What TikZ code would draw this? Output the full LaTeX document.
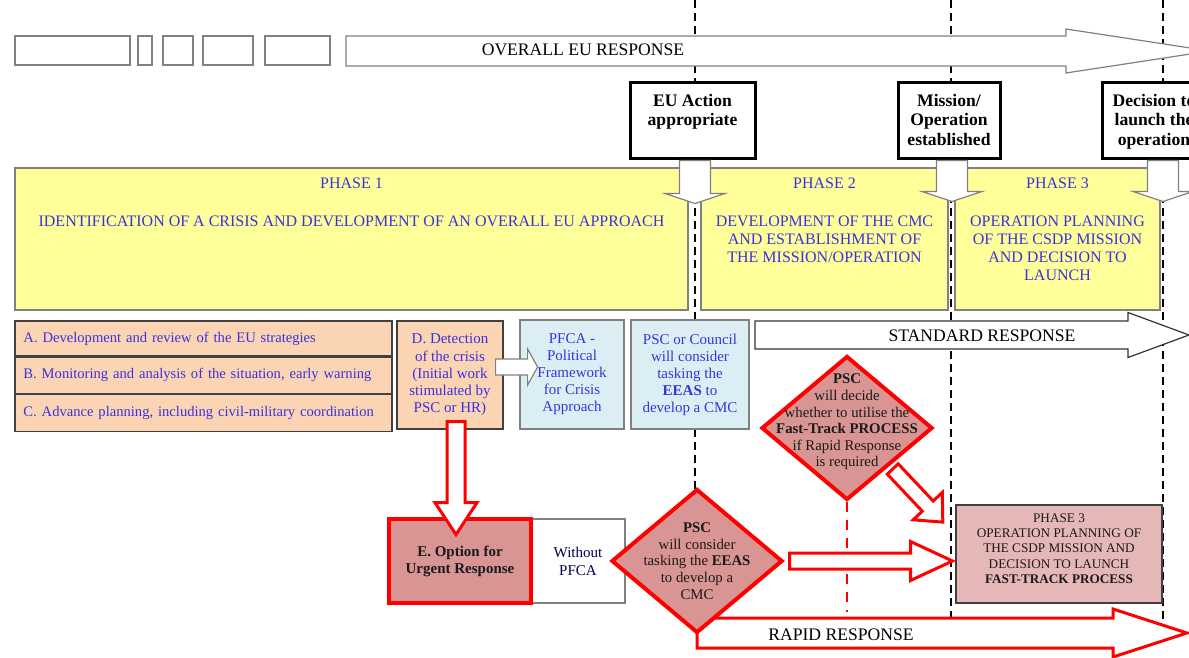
\documentclass[tikz,border=0pt]{standalone}
\usepackage{fontspec}
\setmainfont{Liberation Serif}
\usetikzlibrary{shapes.geometric, positioning, backgrounds}

\definecolor{phaseyellow}{HTML}{FFFF99}
\definecolor{peach}{HTML}{FBD4B4}
\definecolor{paleblue}{HTML}{DBEEF3}
\definecolor{rosefill}{HTML}{D99594}
\definecolor{palerose}{HTML}{E5B8B7}
\definecolor{textblue}{RGB}{60,50,220}
\definecolor{framegray}{HTML}{808080}
\definecolor{darktext}{HTML}{1A1A1A}

% block arrow: [style]{tail}{angle}{length}{shaft half}{head half}{head length}
\newcommand{\blockarrow}[7][]{%
  \begin{scope}[shift={#2}, rotate=#3]
    \draw[#1] (0,-#5) -- (#4-#7,-#5) -- (#4-#7,-#6) -- (#4,0)
      -- (#4-#7,#6) -- (#4-#7,#5) -- (0,#5) -- cycle;
  \end{scope}}

\begin{document}
\begin{tikzpicture}[x=0.5pt, y=-0.5pt,
    every node/.style={inner sep=0pt, align=center},
    tinybox/.style={draw=framegray, line width=0.6pt},
    wharrow/.style={draw=framegray, line width=0.6pt, fill=white},
    stdarrow/.style={draw=black!80, line width=0.6pt, fill=white},
    redarrow/.style={draw=red, line width=1.5pt, fill=white},
    arrowtext/.style={font=\fontsize{8.8}{10}\selectfont},
    milestone/.style={draw, line width=1.5pt, fill=white, minimum height=38pt},
    milestonetext/.style={font=\fontsize{8.8}{9.75}\selectfont\bfseries},
    phasebox/.style={draw=framegray, line width=0.6pt, fill=phaseyellow, minimum height=71pt},
    phasetext/.style={text=textblue, font=\fontsize{8}{9}\selectfont},
    taskbox/.style={draw=black!75, line width=0.6pt, fill=peach, text=textblue,
      font=\fontsize{7.5}{8.6}\selectfont},
    tasklist/.style={taskbox, text width=180pt, inner xsep=4.25pt, align=left,
      font=\fontsize{7.3}{8.6}\selectfont},
    framebox/.style={draw=framegray, line width=0.6pt, fill=paleblue, text=textblue,
      minimum height=54.5pt, font=\fontsize{7.5}{8.5}\selectfont},
    reddiamond/.style={diamond, draw=red, line width=2pt, fill=rosefill,
      minimum width=85.5pt, minimum height=72pt},
    diatext/.style={text=darktext, font=\fontsize{7.4}{8.3}\selectfont},
    urgentbox/.style={draw=red, line width=2pt, fill=rosefill, minimum height=42pt,
      font=\fontsize{7.5}{8.5}\selectfont\bfseries, text=darktext},
    plainbox/.style={draw=framegray, line width=0.6pt, fill=white, minimum height=42pt,
      text=black!70!blue, font=\fontsize{7.5}{9}\selectfont},
    fastbox/.style={draw=black!75, line width=0.8pt, fill=palerose},
    fasttext/.style={text=darktext, font=\fontsize{6.6}{7.6}\selectfont},
    guide/.style={dash pattern=on 4pt off 2.5pt, line width=1pt},
    redguide/.style={draw=red, dash pattern=on 5pt off 4pt, line width=1.3pt}]
\useasboundingbox (0,0) rectangle (1189,658);

% top row
\foreach \l/\r in {15/130,138/152,163/193,203/253,265/330}
  \draw[tinybox] (\l,36) rectangle (\r,65);
\blockarrow[wharrow]{(346,51)}{0}{864}{15}{22}{144}
\node[arrowtext] (overall) at (583,50) {OVERALL EU RESPONSE};

% milestones
\node[milestone, minimum width=62.5pt] (euact) at (692.5,121) {};
\node[milestonetext, anchor=north] (euactt) at ([yshift=-6pt]euact.north) {EU Action\\appropriate};
\node[milestone, minimum width=51pt] (estab) at (949,121) {};
\node[milestonetext, anchor=north] (estabt) at ([yshift=-6pt]estab.north) {Mission/\\Operation\\established};
\node[milestone, minimum width=52pt] (launch) at (1154,121) {};
\node[milestonetext, anchor=north] (launcht) at ([yshift=-6pt]launch.north) {Decision to\\launch the\\operation};

% phases
\node[phasebox, minimum width=336.5pt] (ph1) at (351.5,239) {};
\node[phasetext, anchor=north] (ph1t) at ([yshift=-5.3pt]ph1.north)
  {PHASE 1\\[10pt]IDENTIFICATION OF A CRISIS AND DEVELOPMENT OF AN OVERALL EU APPROACH};
\node[phasebox, minimum width=123.5pt] (ph2) at (824.5,239) {};
\node[phasetext, anchor=north] (ph2t) at ([yshift=-5.3pt]ph2.north)
  {PHASE 2\\[10pt]DEVELOPMENT OF THE CMC\\AND ESTABLISHMENT OF\\THE MISSION/OPERATION};
\node[phasebox, minimum width=102.5pt] (ph3) at (1057.5,239) {};
\node[phasetext, anchor=north] (ph3t) at ([yshift=-5.3pt]ph3.north)
  {PHASE 3\\[10pt]OPERATION PLANNING\\OF THE CSDP MISSION\\AND DECISION TO\\LAUNCH};

\blockarrow[wharrow]{([xshift=1.25pt]euact.south)}{-90}{43}{15.5}{30}{10}
\blockarrow[wharrow]{([xshift=1.5pt]estab.south)}{-90}{41}{15.5}{30}{10}
\blockarrow[wharrow]{([xshift=4.5pt]launch.south)}{-90}{41}{15.5}{30}{10}

% tasks of phase 1
\node[tasklist, minimum height=17.5pt] (strat) at (203.5,338.5)
  {A. Development and review of the EU strategies};
\node[tasklist, minimum height=18pt, below=0pt of strat] (monitor)
  {B. Monitoring and analysis of the situation, early warning};
\node[tasklist, minimum height=18.5pt, below=0pt of monitor] (advplan)
  {C. Advance planning, including civil-military coordination};
\node[taskbox, minimum width=53pt, minimum height=54pt] (detect) at (450,375)
  {D. Detection\\of the crisis\\(Initial work\\stimulated by\\PSC or HR)};
\node[framebox, minimum width=52pt] (pfca) at (572,374.5)
  {PFCA -\\Political\\Framework\\for Crisis\\Approach};
\node[framebox, minimum width=59pt] (tasking) at (690,374.5)
  {PSC or Council\\will consider\\tasking the\\\textbf{EEAS} to\\develop a CMC};
\blockarrow[wharrow]{([xshift=-4pt,yshift=4pt]detect.east)}{0}{42}{8}{18}{10}

% standard response
\blockarrow[stdarrow]{(755,335)}{0}{434}{14}{22.5}{61}
\node[arrowtext] (stdtext) at (982,336) {STANDARD RESPONSE};

% rapid response
\blockarrow[redarrow]{(697,633)}{0}{490}{15}{24}{74}
\node[arrowtext] (rapidtext) at (841,635) {RAPID RESPONSE};

\node[reddiamond] (fasttrack) at (847,428) {};
\node[diatext] (fasttrackt) at ([yshift=3pt]fasttrack.center)
  {\textbf{PSC}\\will decide\\whether to utilise the\\\textbf{Fast-Track PROCESS}\\if Rapid Response\\is required};
\coordinate (ftend) at (847,612);
\draw[redguide] (fasttrack.south) -- (ftend);

\node[plainbox, minimum width=47pt] (nopfca) at (578,561) {Without\\PFCA};
\node[urgentbox, minimum width=71pt] (urgent) at (460,561) {E. Option for\\Urgent Response};
\node[reddiamond] (urgentpsc) at (697,561) {};
\node[diatext] (urgentpsct) at (urgentpsc.center)
  {\textbf{PSC}\\will consider\\tasking the \textbf{EEAS}\\to develop a\\CMC};

\node[fastbox, minimum width=103pt, minimum height=49pt] (ftphase) at (1059,554) {};
\node[fasttext] (ftphaset) at ([yshift=2.75pt]ftphase.center)
  {PHASE 3\\OPERATION PLANNING OF\\THE CSDP MISSION AND\\DECISION TO LAUNCH\\\textbf{FAST-TRACK PROCESS}};

\blockarrow[redarrow]{([xshift=3pt,yshift=4pt]detect.south)}{-90}{113}{9}{21}{32}
\blockarrow[redarrow]{([xshift=2.5pt]urgentpsc.east)}{0}{163}{8}{19.5}{42}
\blockarrow[redarrow]{([xshift=1pt,yshift=-2pt]fasttrack.south east)}{-46.7}{73}{7.5}{20}{22}

% dashed time lines
\begin{scope}[on background layer]
  \coordinate (g1) at (695,0);
  \coordinate (g2) at (951,0);
  \coordinate (g3) at (1163,0);
  \draw[guide] (g1) -- (g1 |- urgentpsc.center);
  \draw[guide] (g2) -- (g2 |- rapidtext.south);
  \draw[guide] (g3) -- (g3 |- rapidtext.south);
\end{scope}
\end{tikzpicture}
\end{document}
